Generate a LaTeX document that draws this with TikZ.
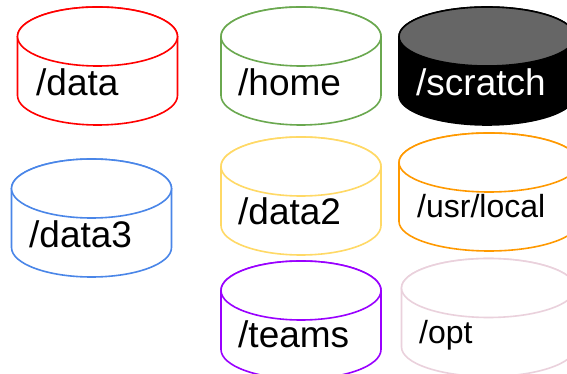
\documentclass[tikz,border=0pt]{standalone}
\usepackage{fontspec}
\setmainfont{Liberation Sans}
\definecolor{diskgreen}{HTML}{6AA84F}
\definecolor{diskblue}{HTML}{4A86E8}
\definecolor{diskyellow}{HTML}{FFD966}
\definecolor{diskorange}{HTML}{FF9900}
\definecolor{diskpurple}{HTML}{9900FF}
\definecolor{diskpink}{HTML}{EAD1DC}
\tikzset{
    disklabel/.style={anchor=base west,inner sep=0pt,font=\fontsize{37}{37}\selectfont},
    smalllabel/.style={disklabel,font=\fontsize{32}{32}\selectfont}
}
\begin{document}
\begin{tikzpicture}[x=1pt,y=1pt]
    \useasboundingbox (0,0) rectangle (567,374);
    \clip (0,0) rectangle (567,374);
    % x, y of the top left corner, half width, line colour, body colour, top colour
    \foreach \x/\y/\rx/\col/\body/\lid in {
        17.5/367/80/red/white/white,
        221/367/80/diskgreen/white/white,
        399/367/88/black/black/black!60,
        11.5/215/80/diskblue/white/white,
        221/237/80/diskyellow/white/white,
        399/241/90/diskorange/white/white,
        221/113/80/diskpurple/white/white,
        401.5/115.5/87/diskpink/white/white}{
        \draw[line width=1.6pt, draw=\col, fill=\body]
            (\x,\y-29.5) -- (\x,\y-88.5) arc (180:360:{\rx} and 29.5) --
            (\x+2*\rx,\y-29.5) arc (0:180:{\rx} and 29.5) -- cycle;
        \draw[line width=1.6pt, draw=\col, fill=\lid]
            (\x+\rx,\y-29.5) ellipse ({\rx} and 29.5);
    }
    \node[disklabel] (data) at (36,278) {/data};
    \node[disklabel] (home) at (238,278) {/home};
    \node[disklabel,text=white] (scratch) at (416,278) {/scratch};
    \node[disklabel] (data3) at (29,126) {/data3};
    \node[disklabel] (data2) at (238,149) {/data2};
    \node[smalllabel] (usrlocal) at (417,156) {/usr/local};
    \node[disklabel] (teams) at (238,26) {/teams};
    \node[smalllabel] (opt) at (419,30) {/opt};
\end{tikzpicture}
\end{document}
